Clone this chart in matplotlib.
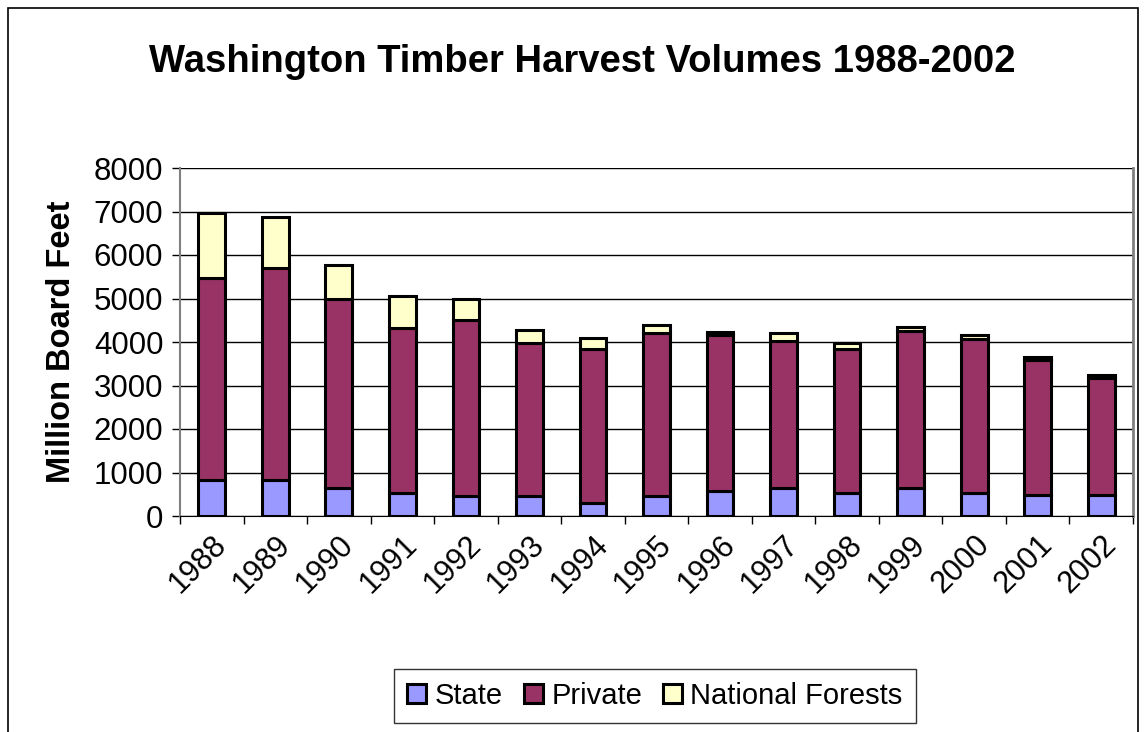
import matplotlib
matplotlib.use("Agg")
import matplotlib.pyplot as plt
from matplotlib.patches import Rectangle
import numpy as np

years = ["1988", "1989", "1990", "1991", "1992", "1993", "1994", "1995",
         "1996", "1997", "1998", "1999", "2000", "2001", "2002"]
state = [830, 830, 650, 520, 470, 470, 290, 470, 580, 640, 540, 650, 540, 475, 475]
private = [4640, 4880, 4350, 3800, 4030, 3500, 3560, 3730, 3570, 3390, 3300, 3610, 3530, 3110, 2690]
national = [1500, 1160, 770, 730, 490, 310, 245, 190, 70, 185, 145, 80, 85, 80, 85]

colors = ["#9999ff", "#993366", "#ffffcc"]
labels = ["State", "Private", "National Forests"]

plt.rcParams['font.family'] = ['Liberation Sans', 'DejaVu Sans']

fig = plt.figure(figsize=(11.46, 7.32), dpi=100)
ax = fig.add_axes([180/1146, 1 - 516/732, (1133-180)/1146, (516-168)/732])

x = np.arange(len(years))
w = 0.42
s = np.array(state); p = np.array(private); n = np.array(national)
ax.bar(x, s, w, color=colors[0], edgecolor="black", linewidth=2.2, label=labels[0], zorder=3)
ax.bar(x, p, w, bottom=s, color=colors[1], edgecolor="black", linewidth=2.2, label=labels[1], zorder=3)
ax.bar(x, n, w, bottom=s + p, color=colors[2], edgecolor="black", linewidth=2.2, label=labels[2], zorder=3)

ax.set_xlim(-0.5, len(years) - 0.5)
ax.set_ylim(0, 8000)
ax.set_yticks(range(0, 8001, 1000))
ax.yaxis.grid(True, color="black", linewidth=1)
ax.set_axisbelow(True)
ax.set_xticks(x)
ax.set_xticklabels(years, rotation=45, ha="right", rotation_mode="anchor", fontsize=22)
ax.tick_params(axis="x", length=0, pad=10)
ax.set_xticks(np.arange(-0.5, len(years)), minor=True)
ax.tick_params(axis="x", which="minor", length=6, width=1, direction="out", color="black")
ax.tick_params(axis="y", labelsize=22.5, length=6, width=1, direction="out", pad=6)

ax.spines["bottom"].set_color("black")
ax.spines["left"].set_color("#808080")
ax.spines["left"].set_linewidth(1.5)
ax.spines["right"].set_color("#808080")
ax.spines["right"].set_linewidth(2)
ax.spines["top"].set_visible(False)

ax.set_ylabel("Million Board Feet", fontsize=23.5, fontweight="bold", labelpad=12)

fig.text(582/1146, 1 - 62/732, "Washington Timber Harvest Volumes 1988-2002",
         ha="center", va="center", fontsize=27.5, fontweight="bold")

leg = fig.legend(loc="center", bbox_to_anchor=(655/1146, 1 - 696/732), ncol=3,
                 fontsize=21, frameon=True, fancybox=False, edgecolor="black",
                 handlelength=0.65, handleheight=0.65, handletextpad=0.3,
                 columnspacing=0.7, borderpad=0.45)
leg.get_frame().set_linewidth(1)

# figure border
fig.patches.append(Rectangle((8/1146, -0.01), (1138-8)/1146, 1 - 8/732 + 0.01,
                             transform=fig.transFigure, fill=False,
                             edgecolor="black", linewidth=1.2))

fig.savefig("out.png", dpi=100)
